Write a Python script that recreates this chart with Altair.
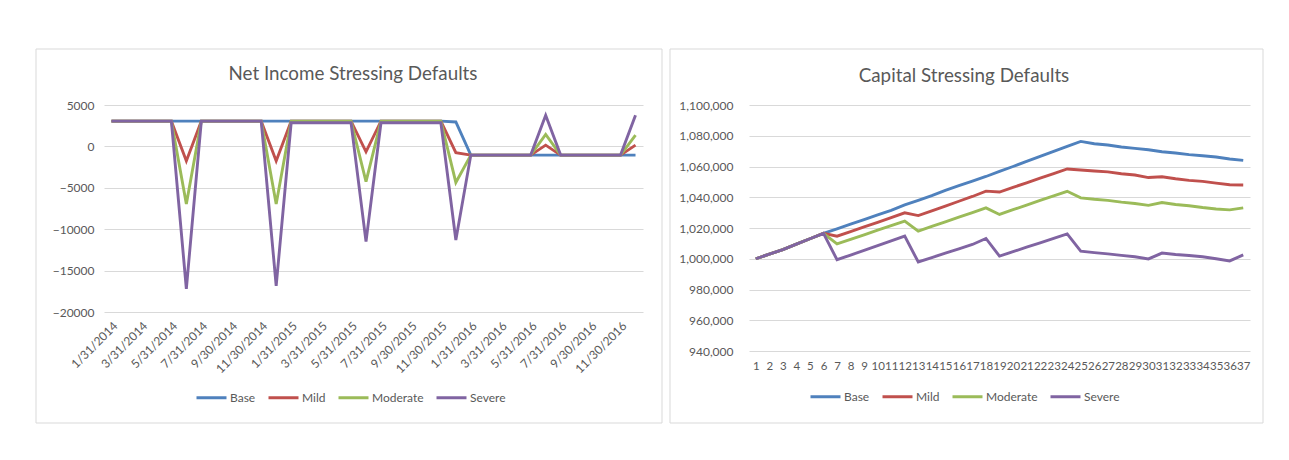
import altair as alt
import pandas as pd

series = ["Base", "Mild", "Moderate", "Severe"]
colors = ["#4F81BD", "#C0504D", "#9BBB59", "#8064A2"]

dates = [
    "1/31/2014", "2/28/2014", "3/31/2014", "4/30/2014", "5/31/2014", "6/30/2014",
    "7/31/2014", "8/31/2014", "9/30/2014", "10/31/2014", "11/30/2014", "12/31/2014",
    "1/31/2015", "2/28/2015", "3/31/2015", "4/30/2015", "5/31/2015", "6/30/2015",
    "7/31/2015", "8/31/2015", "9/30/2015", "10/31/2015", "11/30/2015", "12/31/2015",
    "1/31/2016", "2/29/2016", "3/31/2016", "4/30/2016", "5/31/2016", "6/30/2016",
    "7/31/2016", "8/31/2016", "9/30/2016", "10/31/2016", "11/30/2016", "12/31/2016",
]
date_labels = dates[::2]

ni_base = [3050, 3050, 3050, 3050, 3050, 3050, 3050, 3050, 3050, 3050, 3050, 3050,
           3050, 3050, 3050, 3050, 3050, 3050, 3050, 3050, 3050, 3050, 3050, 2950,
           -1050, -1050, -1050, -1050, -1050, -1050, -1050, -1050, -1050, -1050, -1050, -1050]
ni_mild = [3050, 3050, 3050, 3050, 3050, -1750, 3050, 3050, 3050, 3050, 3050, -1750,
           3050, 3050, 3050, 3050, 3050, -650, 3050, 3050, 3050, 3050, 3050, -750,
           -1050, -1050, -1050, -1050, -1050, 150, -1050, -1050, -1050, -1050, -1050, 150]
ni_moderate = [3050, 3050, 3050, 3050, 3050, -6950, 3050, 3050, 3050, 3050, 3050, -6950,
               3050, 3050, 3050, 3050, 3050, -4250, 3050, 3050, 3050, 3050, 3050, -4350,
               -1050, -1050, -1050, -1050, -1050, 1450, -1050, -1050, -1050, -1050, -1050, 1350]
ni_severe = [3050, 3050, 3050, 3050, 3050, -17200, 3050, 3050, 3050, 3050, 3050, -16850,
             2850, 2850, 2850, 2850, 2850, -11500, 2850, 2850, 2850, 2850, 2850, -11300,
             -1050, -1050, -1050, -1050, -1050, 3750, -1050, -1050, -1050, -1050, -1050, 3750]

periods = list(range(1, 38))
cap_base = [1000000, 1003000, 1006000, 1009500, 1013000, 1016500, 1019500, 1022500, 1025500,
            1028500, 1031500, 1035000, 1038000, 1041000, 1044500, 1047500, 1050500, 1053500,
            1056800, 1060000, 1063300, 1066600, 1069800, 1073100, 1076300, 1074800, 1074000,
            1072700, 1071800, 1070900, 1069600, 1068800, 1067700, 1067000, 1066200, 1064900, 1064000]
cap_mild = [1000000, 1003000, 1006000, 1009500, 1013000, 1016500, 1014700, 1017700, 1020700,
            1023700, 1026800, 1029900, 1028100, 1031200, 1034300, 1037400, 1040500, 1044000,
            1043400, 1046400, 1049400, 1052400, 1055400, 1058400, 1057700, 1057100, 1056500,
            1055300, 1054500, 1052800, 1053300, 1052000, 1051000, 1050300, 1049200, 1048100, 1048000]
cap_moderate = [1000000, 1003000, 1006000, 1009500, 1013000, 1016500, 1009600, 1012600, 1015600,
                1018600, 1021600, 1024500, 1017900, 1021000, 1024000, 1027000, 1030000, 1033100,
                1028800, 1031900, 1034900, 1037900, 1040900, 1043900, 1039600, 1038700, 1038000,
                1036800, 1035900, 1034700, 1036600, 1035300, 1034500, 1033300, 1032400, 1031800, 1033100]
cap_severe = [1000000, 1003000, 1006000, 1009500, 1013000, 1016500, 999400, 1002400, 1005400,
              1008500, 1011600, 1014700, 997900, 1000800, 1003600, 1006400, 1009300, 1013200,
              1001700, 1004600, 1007500, 1010400, 1013300, 1016200, 1004900, 1004000, 1003200,
              1002200, 1001300, 999900, 1003700, 1002800, 1002100, 1001300, 1000000, 998600, 1002500]

ni_vals = [ni_base, ni_mild, ni_moderate, ni_severe]
cap_vals = [cap_base, cap_mild, cap_moderate, cap_severe]

rows = []
for s, vals in zip(series, ni_vals):
    for d, v in zip(dates, vals):
        rows.append({"date": d, "series": s, "value": v})
df_ni = pd.DataFrame(rows)

rows = []
for s, vals in zip(series, cap_vals):
    for p, v in zip(periods, vals):
        rows.append({"period": p, "series": s, "value": v})
df_cap = pd.DataFrame(rows)

TXT = "#595959"
GRID = "#d9d9d9"
FONT = "Lato"
one = pd.DataFrame({"k": [0]})


def legend(x, y):
    return alt.Legend(
        title=None, orient="none", legendX=x, legendY=y, direction="horizontal",
        symbolType="stroke", symbolSize=900, symbolStrokeWidth=3,
        labelFontSize=12, labelColor=TXT, labelFont=FONT, labelOffset=2,
        columnPadding=6,
    )


# ---------- left chart ----------
LW, LH = 539, 207
left_frame = alt.Chart(one).mark_rect(fillOpacity=0, stroke=GRID, strokeWidth=1).encode(
    x=alt.value(-68), x2=alt.value(558), y=alt.value(-56), y2=alt.value(318)
)
left_title = alt.Chart(one).mark_text(
    fontSize=18.8, color=TXT, font=FONT, align="center", baseline="middle"
).encode(x=alt.value(249), y=alt.value(-31), text=alt.value("Net Income Stressing Defaults"))
left_lines = alt.Chart(df_ni).mark_line(strokeWidth=2.9).encode(
    x=alt.X("date:O", sort=dates, title=None,
            axis=alt.Axis(values=date_labels, labelAngle=-45, ticks=False, domain=False,
                          labelPadding=8, labelFontSize=12, labelColor=TXT, labelFont=FONT,
                          grid=False)),
    y=alt.Y("value:Q", title=None,
            scale=alt.Scale(domain=[-20000, 5000], nice=False, zero=False),
            axis=alt.Axis(values=[5000, 0, -5000, -10000, -15000, -20000], format="d",
                          ticks=False, domain=False, labelPadding=10, labelFontSize=12,
                          labelColor=TXT, labelFont=FONT, gridColor=GRID)),
    color=alt.Color("series:N", scale=alt.Scale(domain=series, range=colors),
                    legend=legend(91, 276)),
)
left = alt.layer(left_frame, left_title, left_lines).properties(width=LW, height=LH)

# ---------- right chart ----------
RW, RH = 501, 246
right_frame = alt.Chart(one).mark_rect(fillOpacity=0, stroke=GRID, strokeWidth=1).encode(
    x=alt.value(-79), x2=alt.value(514), y=alt.value(-56), y2=alt.value(318)
)
right_title = alt.Chart(one).mark_text(
    fontSize=18.8, color=TXT, font=FONT, align="center", baseline="middle"
).encode(x=alt.value(215), y=alt.value(-29), text=alt.value("Capital Stressing Defaults"))
right_lines = alt.Chart(df_cap).mark_line(strokeWidth=2.9).encode(
    x=alt.X("period:O", title=None,
            axis=alt.Axis(labelAngle=0, labelOverlap=False, ticks=False, domain=False,
                          labelPadding=9, labelFontSize=11.5, labelColor=TXT, labelFont=FONT,
                          grid=False)),
    y=alt.Y("value:Q", title=None,
            scale=alt.Scale(domain=[940000, 1100000], nice=False, zero=False),
            axis=alt.Axis(values=list(range(940000, 1100001, 20000)), format=",d",
                          ticks=False, domain=False, labelPadding=16, labelFontSize=12,
                          labelColor=TXT, labelFont=FONT, gridColor=GRID)),
    color=alt.Color("series:N", scale=alt.Scale(domain=series, range=colors),
                    legend=legend(60, 275)),
)
right = alt.layer(right_frame, right_title, right_lines).properties(width=RW, height=RH)

chart = alt.hconcat(left, right, spacing=6).resolve_scale(
    color="independent"
).resolve_legend(color="independent").properties(
    padding={"left": 27, "top": 40, "right": 5, "bottom": 5}, background="white"
).configure_view(stroke=None)

chart.save("out.html", embed_options={"renderer": "svg", "actions": False})
